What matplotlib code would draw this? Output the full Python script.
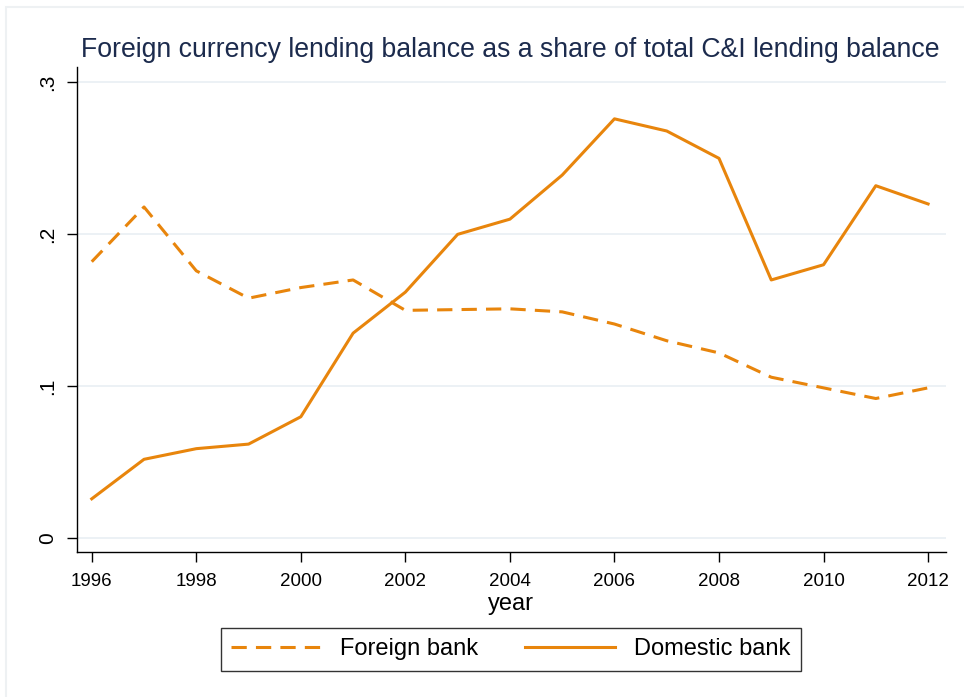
import matplotlib.pyplot as plt
from matplotlib.patches import Rectangle

plt.rcParams['font.family'] = ['Liberation Sans', 'DejaVu Sans']

years = list(range(1996, 2013))
foreign_bank = [0.182, 0.218, 0.176, 0.158, 0.165, 0.170, 0.150, 0.1505, 0.151,
                0.149, 0.141, 0.130, 0.122, 0.106, 0.099, 0.092, 0.099]
domestic_bank = [0.026, 0.052, 0.059, 0.062, 0.080, 0.135, 0.162, 0.200, 0.210,
                 0.239, 0.276, 0.268, 0.250, 0.170, 0.180, 0.232, 0.220]
y_ticks = [0, 0.1, 0.2, 0.3]
y_tick_labels = ['0', '.1', '.2', '.3']
x_ticks = list(range(1996, 2013, 2))

line_color = '#E8850C'

fig = plt.figure(figsize=(9.64, 6.97), dpi=100)
# faint outer frame around the graph region
fig.patches.append(Rectangle((0.006, -0.01), 1.0, 1.0, transform=fig.transFigure,
                             fill=False, edgecolor='#eef1f3', linewidth=1.5))

ax = fig.add_axes([0.0794, 0.208, 0.902, 0.6963])
ax.plot(years, foreign_bank, color=line_color, linewidth=2.2,
        linestyle=(0, (5, 3)), label='Foreign bank')
ax.plot(years, domestic_bank, color=line_color, linewidth=2.2,
        label='Domestic bank')

ax.set_xlim(1995.709, 2012.344)
ax.set_ylim(-0.009, 0.3103)
ax.set_xticks(x_ticks)
ax.set_yticks(y_ticks)
ax.set_yticklabels(y_tick_labels, rotation=90, va='center')
ax.tick_params(axis='both', length=7, width=1, colors='black')
ax.tick_params(axis='x', labelsize=13.5, pad=8)
ax.tick_params(axis='y', labelsize=15, pad=7)
ax.grid(axis='y', color='#eaf0f4', linewidth=1.3)
ax.set_axisbelow(True)
for side in ['top', 'right']:
    ax.spines[side].set_visible(False)
for side in ['left', 'bottom']:
    ax.spines[side].set_linewidth(1.0)

ax.set_xlabel('year', fontsize=17, labelpad=2)
fig.text(0.529, 0.918, 'Foreign currency lending balance as a share of total C&I lending balance',
         ha='center', va='baseline', fontsize=19.2, color='#1c2b4d')

leg = fig.legend(loc='center', bbox_to_anchor=(0.530, 0.0682), ncol=2,
                 fontsize=17, frameon=True, fancybox=False, edgecolor='black',
                 handlelength=3.8, columnspacing=2.0, borderpad=0.45)
leg.get_frame().set_linewidth(1.0)

fig.savefig('out.png', dpi=100, facecolor='white')
